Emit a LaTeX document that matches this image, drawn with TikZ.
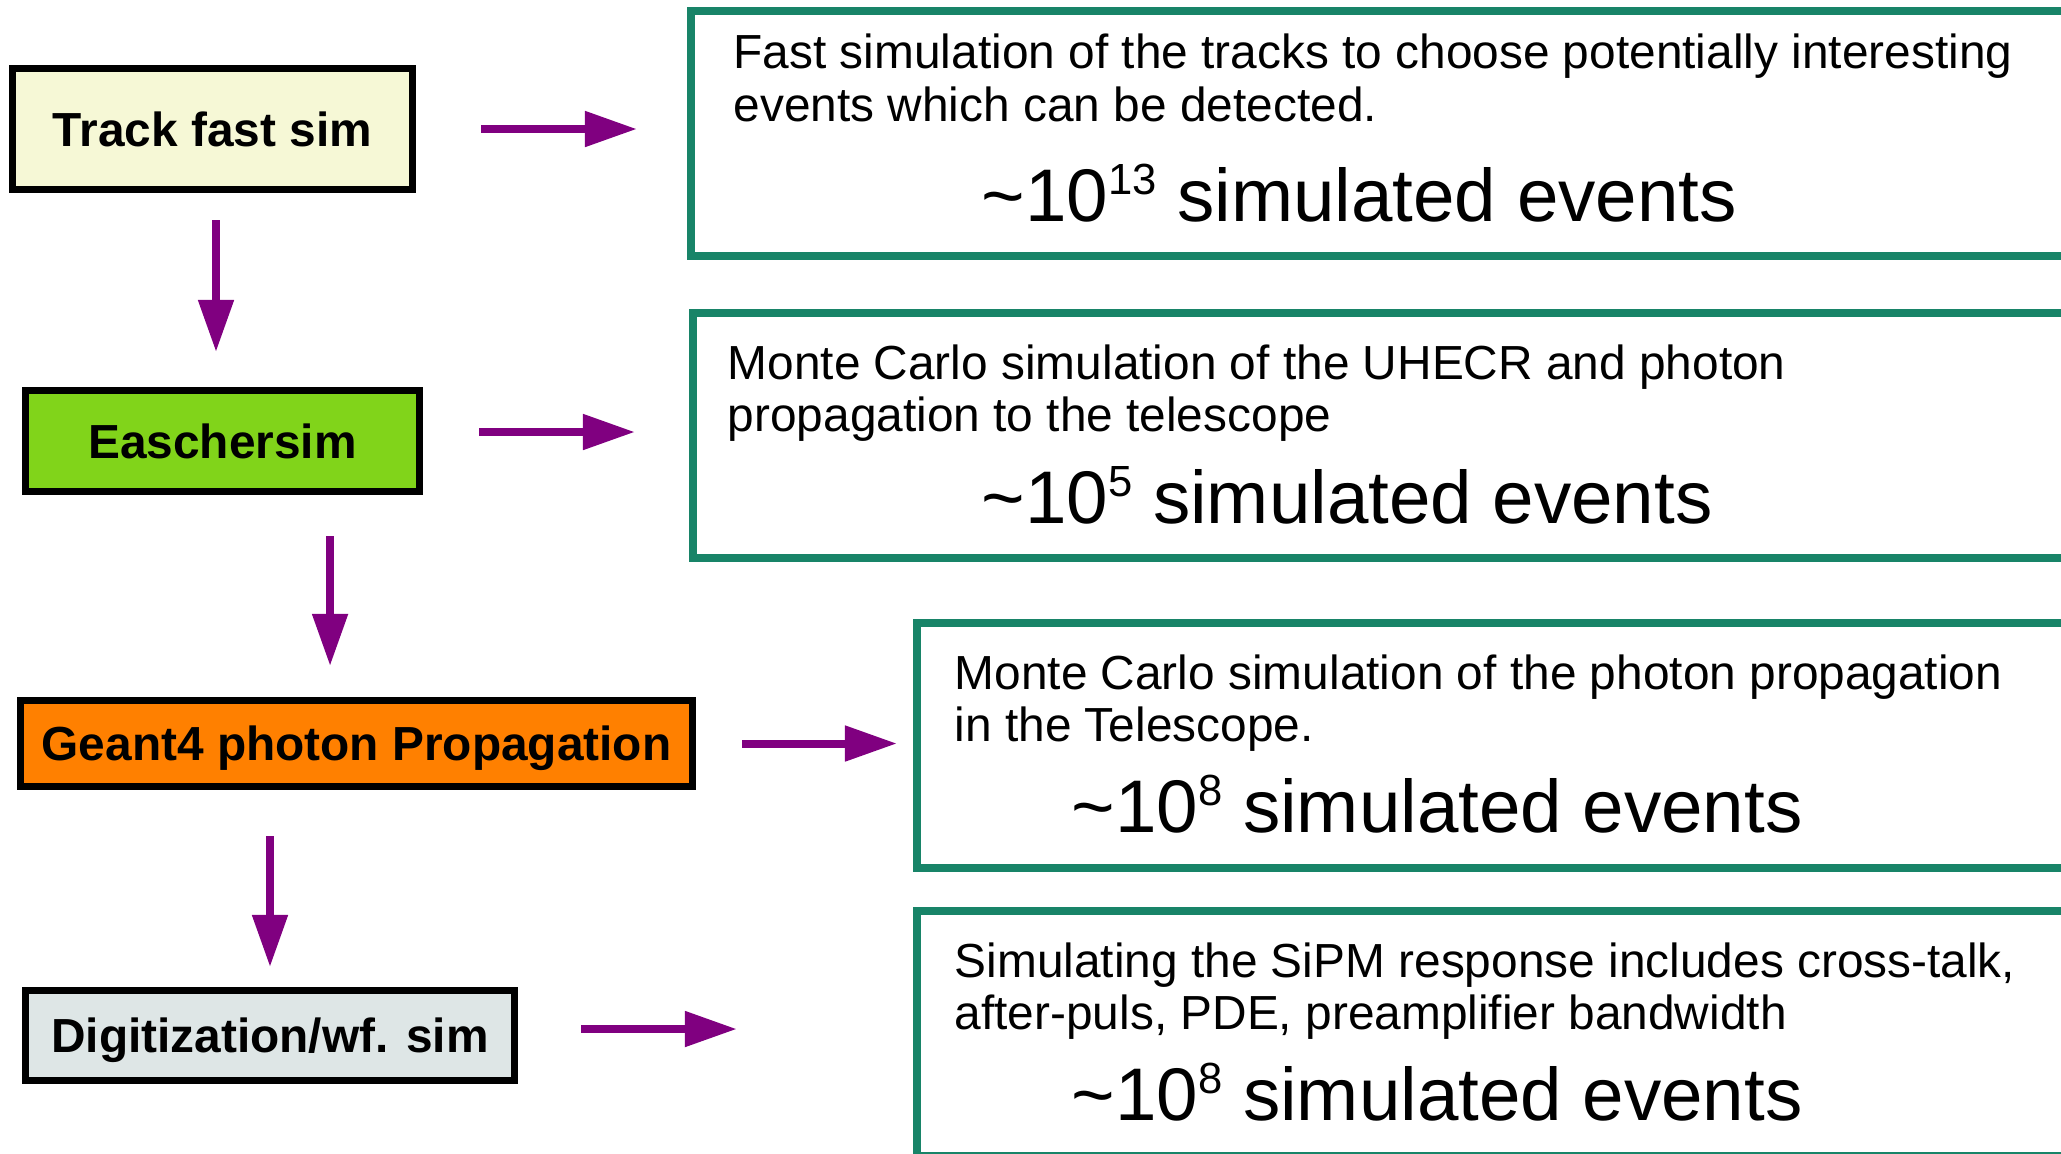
\documentclass[tikz,border=0pt]{standalone}
\usepackage{fontspec}
\setmainfont{Liberation Sans}
\usetikzlibrary{calc, arrows.meta}

\definecolor{flowpurple}{RGB}{128,0,128}
\definecolor{boxteal}{RGB}{24,132,104}
\definecolor{trackyellow}{RGB}{246,248,214}
\definecolor{eschgreen}{RGB}{129,212,26}
\definecolor{geantorange}{RGB}{255,128,0}
\definecolor{digigray}{RGB}{222,230,230}

\newcommand{\expo}[1]{\raisebox{0.36em}{\fontsize{12.4}{12}\selectfont #1}}

\begin{document}
\begin{tikzpicture}[x=0.01cm, y=-0.01cm,
        stage/.style={draw, line width=0.07cm, outer sep=0pt, inner sep=0pt, text depth=0pt,
            font=\fontsize{13.6}{16}\selectfont\bfseries},
        result/.style={draw=boxteal, line width=0.08cm, outer sep=0pt, anchor=west,
            minimum width=15cm, minimum height=2.45cm},
        desc/.style={anchor=west, align=left, inner sep=0pt, font=\fontsize{13.6}{15}\selectfont},
        count/.style={anchor=base west, inner sep=0pt, font=\fontsize{21.2}{24}\selectfont},
        flow/.style={draw=flowpurple, line width=0.08cm, -{Triangle[length=0.52cm,width=0.34cm]}}]
        \clip (0,0) rectangle (2061,1153);
        % simulation chain
        \node[stage, fill=trackyellow, minimum width=4cm, minimum height=1.21cm] (track) at (212.5,129) {Track fast sim};
        \node[stage, fill=eschgreen, minimum width=3.93cm, minimum height=1cm] (easch) at (222.5,441) {Easchersim};
        \node[stage, fill=geantorange, minimum width=6.72cm, minimum height=0.86cm] (geant) at (356.5,743.5) {Geant4 photon Propagation};
        \node[stage, fill=digigray, minimum width=4.89cm, minimum height=0.9cm] (digit) at (270,1035.5) {Digitization/wf. sim};
        % result boxes
        \node[result] (fastbox) at (691,133.5) {};
        \node[result] (mcbox) at (693,435.5) {};
        \node[result] (telbox) at (917,745.5) {};
        \node[result] (sipmbox) at (917,1033.5) {};
        \node[desc] (fastdesc) at (733,78) {Fast simulation of the tracks to choose potentially interesting\\events which can be detected.};
        \node[count] (fastcount) at (981,221) {\textasciitilde10\expo{13} simulated events};
        \node[desc] (mcdesc) at (727,393) {Monte Carlo simulation of the UHECR and photon\\propagation to the telescope};
        \node[count] (mccount) at (981,523) {\textasciitilde10\expo{5} simulated events};
        \node[desc] (teldesc) at (954,703) {Monte Carlo simulation of the photon propagation\\in the Telescope.};
        \node[count] (telcount) at (1071,832) {\textasciitilde10\expo{8} simulated events};
        \node[desc] (sipmdesc) at (954,991) {Simulating the SiPM response includes cross-talk,\\after-puls, PDE, preamplifier bandwidth};
        \node[count] (sipmcount) at (1071,1120) {\textasciitilde10\expo{8} simulated events};
        % arrows down the chain
        \draw[flow, shorten <=0.305cm, shorten >=0.39cm] ([xshift=0.035cm]track.south) -- ([xshift=0.035cm]track.south |- easch.north);
        \draw[flow, shorten <=0.45cm, shorten >=0.345cm] ([xshift=1.075cm]easch.south) -- ([xshift=1.075cm]easch.south |- geant.north);
        \draw[flow, shorten <=0.495cm, shorten >=0.235cm] (geant.south -| digit.north) -- (digit.north);
        % arrows to the results
        \draw[flow, shorten <=0.685cm, shorten >=0.54cm] (track.east) -- (track.east -| fastbox.west);
        \draw[flow, shorten <=0.6cm, shorten >=0.58cm] ([yshift=0.09cm]easch.east) -- ([yshift=0.09cm]easch.east -| mcbox.west);
        \draw[flow, shorten <=0.495cm, shorten >=0.2cm] (geant.east) -- (geant.east -| telbox.west);
        \draw[flow, shorten <=0.665cm, shorten >=1.8cm] ([yshift=0.065cm]digit.east) -- ([yshift=0.065cm]digit.east -| sipmbox.west);
\end{tikzpicture}
\end{document}
